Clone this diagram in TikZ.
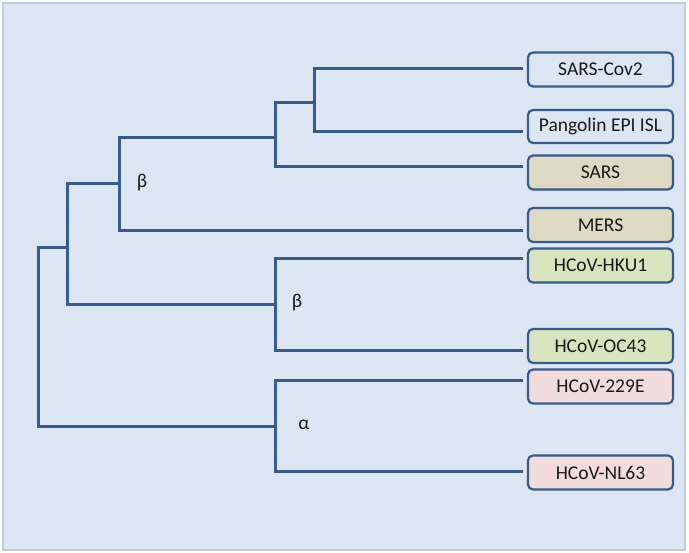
\documentclass[tikz,border=0pt]{standalone}
\usepackage{fontspec}
\setmainfont{Carlito}
\definecolor{bgfill}{HTML}{DCE6F2}
\definecolor{bgline}{HTML}{B9CDE5}
\definecolor{treeblue}{HTML}{375B8C}
\definecolor{plainfill}{HTML}{DCE6F2}
\definecolor{tanfill}{HTML}{DDD9C3}
\definecolor{greenfill}{HTML}{D7E4BD}
\definecolor{pinkfill}{HTML}{F2DCDB}
\tikzset{
  leaf/.style={draw=treeblue, line width=2.2pt, rounded corners=5pt,
    minimum width=145pt, minimum height=34pt, inner sep=0pt,
    font=\fontsize{19.5}{22}\selectfont, text=black!90},
  branch/.style={draw=treeblue, line width=3pt},
  lbl/.style={font=\fontsize{19.5}{22}\selectfont, text=black!90, inner sep=0pt}
}
\begin{document}
\begin{tikzpicture}[x=1pt,y=-1pt]
\useasboundingbox (0,0) rectangle (689,553);
\fill[white] (0,0) rectangle (689,553);
\draw[bgline, fill=bgfill, line width=1.2pt] (3,3) rectangle (685,550);

% leaves
\node[leaf, fill=plainfill] (cov2) at (600.5,69.5) {SARS-Cov2};
\node[leaf, fill=plainfill, minimum height=33pt] (pang) at (600.5,126.5) {Pangolin EPI ISL};
\node[leaf, fill=tanfill] (sars) at (600.5,172.5) {SARS};
\node[leaf, fill=tanfill] (mers) at (600.5,225) {MERS};
\node[leaf, fill=greenfill] (hku1) at (600.5,265.5) {HCoV-HKU1};
\node[leaf, fill=greenfill] (oc43) at (600.5,346) {HCoV-OC43};
\node[leaf, fill=pinkfill] (e229) at (600.5,386.5) {HCoV-229E};
\node[leaf, fill=pinkfill] (nl63) at (600.5,472.5) {HCoV-NL63};

% branch ends near the boxes
\coordinate (t-cov2) at (523,69);
\coordinate (t-pang) at (523,132);
\coordinate (t-sars) at (523,167);
\coordinate (t-mers) at (523,231);
\coordinate (t-hku1) at (523,259);
\coordinate (t-oc43) at (523,351);
\coordinate (t-e229) at (523,381);
\coordinate (t-nl63) at (523,472);

% internal nodes
\coordinate (na) at (314,103);
\coordinate (nb) at (275,138);
\coordinate (nc) at (119,184);
\coordinate (nd) at (275,305);
\coordinate (ne) at (67,248);
\coordinate (nf) at (275,427);
\coordinate (nr) at (38,337);

\draw[branch] (na) |- (t-cov2);
\draw[branch] (na) |- (t-pang);
\draw[branch] (nb) |- (na);
\draw[branch] (nb) |- (t-sars);
\draw[branch] (nc) |- (nb);
\draw[branch] (nc) |- (t-mers);
\draw[branch] (nd) |- (t-hku1);
\draw[branch] (nd) |- (t-oc43);
\draw[branch] (ne) |- (nc);
\draw[branch] (ne) |- (nd);
\draw[branch] (nf) |- (t-e229);
\draw[branch] (nf) |- (t-nl63);
\draw[branch] (nr) |- (ne);
\draw[branch] (nr) |- (nf);

% clade labels
\node[lbl] (lb1) at (142,183) {β};
\node[lbl] (lb2) at (297,303) {β};
\node[lbl] (la) at (304,425) {α};
\end{tikzpicture}
\end{document}
